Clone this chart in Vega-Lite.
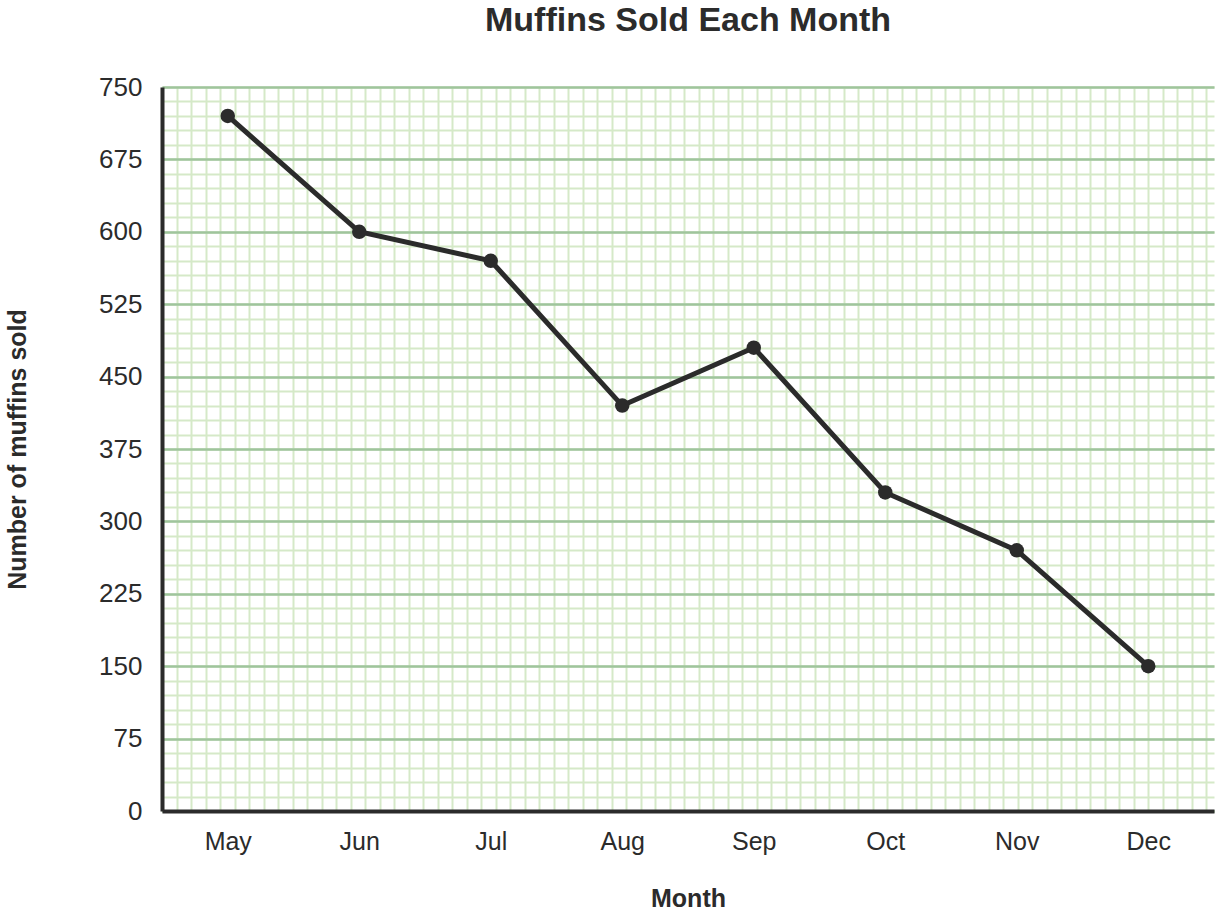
{
  "$schema": "https://vega.github.io/schema/vega-lite/v6.json",
  "autosize": "none",
  "width": 1052,
  "height": 724,
  "padding": {"left": 162, "top": 87, "right": 6, "bottom": 102},
  "background": "white",
  "config": {
    "view": {"stroke": null},
    "font": "Liberation Sans",
    "axis": {"labelFont": "Liberation Sans", "titleFont": "Liberation Sans"}
  },
  "title": {
    "text": "Muffins Sold Each Month",
    "fontSize": 34,
    "fontWeight": "bold",
    "color": "#2b2b2b",
    "anchor": "middle",
    "offset": 36
  },
  "data": {
    "values": [
      {"month": "May", "sold": 720},
      {"month": "Jun", "sold": 600},
      {"month": "Jul", "sold": 570},
      {"month": "Aug", "sold": 420},
      {"month": "Sep", "sold": 480},
      {"month": "Oct", "sold": 330},
      {"month": "Nov", "sold": 270},
      {"month": "Dec", "sold": 150}
    ]
  },
  "layer": [
    {
      "mark": {"type": "point", "opacity": 0},
      "encoding": {
        "x": {
          "datum": 0, "type": "quantitative",
          "scale": {"domain": [0, 72.55], "nice": false, "zero": false},
          "axis": {
            "orient": "top", "grid": true, "gridColor": "#d5e9c8", "gridWidth": 2,
            "domain": false, "ticks": false, "labels": false, "title": null,
            "values": [0,1,2,3,4,5,6,7,8,9,10,11,12,13,14,15,16,17,18,19,20,21,22,23,24,25,26,27,28,29,30,31,32,33,34,35,36,37,38,39,40,41,42,43,44,45,46,47,48,49,50,51,52,53,54,55,56,57,58,59,60,61,62,63,64,65,66,67,68,69,70,71,72]
          }
        },
        "y": {
          "datum": 0, "type": "quantitative",
          "scale": {"domain": [0, 750], "nice": false},
          "axis": {
            "orient": "right", "grid": true, "gridColor": "#d5e9c8", "gridWidth": 2,
            "domain": false, "ticks": false, "labels": false, "title": null,
            "values": [0,15,30,45,60,75,90,105,120,135,150,165,180,195,210,225,240,255,270,285,300,315,330,345,360,375,390,405,420,435,450,465,480,495,510,525,540,555,570,585,600,615,630,645,660,675,690,705,720,735,750]
          }
        }
      }
    },
    {
      "encoding": {
        "x": {
          "field": "month", "type": "nominal", "sort": null,
          "scale": {"type": "point", "padding": 0.5},
          "axis": {
            "orient": "bottom", "title": "Month", "labelAngle": 0,
            "labelFontSize": 25, "labelColor": "#2b2b2b", "labelPadding": 18,
            "titleFontSize": 25, "titleFontWeight": "bold", "titleColor": "#2b2b2b", "titlePadding": 32,
            "domainColor": "#2b2b2b", "domainWidth": 4, "ticks": false, "grid": false
          }
        },
        "y": {
          "field": "sold", "type": "quantitative",
          "scale": {"domain": [0, 750], "nice": false},
          "axis": {
            "orient": "left", "title": "Number of muffins sold",
            "values": [0, 75, 150, 225, 300, 375, 450, 525, 600, 675, 750],
            "labelFontSize": 26, "labelColor": "#2b2b2b", "labelPadding": 20,
            "titleFontSize": 25, "titleFontWeight": "bold", "titleColor": "#2b2b2b", "titlePadding": 68,
            "domainColor": "#2b2b2b", "domainWidth": 4, "ticks": false,
            "grid": true, "gridColor": "#9fc59c", "gridWidth": 2.5
          }
        }
      },
      "layer": [
        {"mark": {"type": "line", "color": "#2b2b2b", "strokeWidth": 5}},
        {"mark": {"type": "point", "filled": true, "color": "#2b2b2b", "size": 210, "opacity": 1}}
      ]
    }
  ],
  "resolve": {
    "scale": {"x": "independent"},
    "axis": {"x": "independent", "y": "independent"}
  }
}
